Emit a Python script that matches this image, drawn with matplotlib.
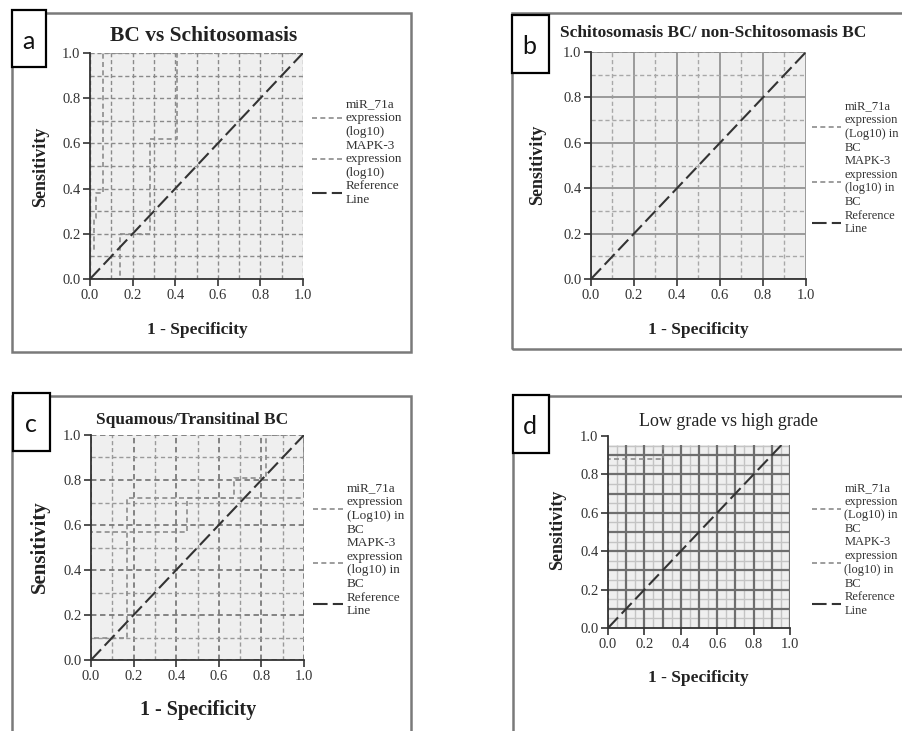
import numpy as np
import matplotlib
matplotlib.use("Agg")
import matplotlib.pyplot as plt
from matplotlib.patches import Rectangle

W, H = 903, 731

# ROC curves (1 - specificity, sensitivity)
a_mir_fpr = [0.0, 0.0, 0.02, 0.02, 0.03, 0.03, 0.06, 0.06, 1.0]
a_mir_tpr = [0.0, 0.13, 0.13, 0.27, 0.27, 0.38, 0.38, 1.0, 1.0]
a_mapk_fpr = [0.0, 0.14, 0.14, 0.28, 0.28, 0.41, 0.41, 1.0]
a_mapk_tpr = [0.0, 0.0, 0.2, 0.2, 0.62, 0.62, 1.0, 1.0]

b_mir_fpr = [0.0, 0.0, 1.0]
b_mir_tpr = [0.0, 1.0, 1.0]
b_mapk_fpr = [0.0, 0.0, 1.0]
b_mapk_tpr = [0.0, 1.0, 1.0]

c_mir_fpr = [0.0, 0.0, 0.17, 0.17, 1.0, 1.0]
c_mir_tpr = [0.0, 0.1, 0.1, 0.72, 0.72, 1.0]
c_mapk_fpr = [0.0, 0.0, 0.45, 0.45, 0.67, 0.67, 0.82, 0.82, 1.0]
c_mapk_tpr = [0.0, 0.57, 0.57, 0.72, 0.72, 0.81, 0.81, 1.0, 1.0]

d_mir_fpr = [0.0, 0.0, 0.3, 0.3, 1.0]
d_mir_tpr = [0.0, 0.88, 0.88, 1.0, 1.0]
d_mapk_fpr = [0.0, 0.0, 1.0]
d_mapk_tpr = [0.0, 1.0, 1.0]

ref_x = [0.0, 1.0]
ref_y = [0.0, 1.0]

ticks = [0.0, 0.2, 0.4, 0.6, 0.8, 1.0]
tick_labels = ["0.0", "0.2", "0.4", "0.6", "0.8", "1.0"]

leg_a = ["miR_71a\nexpression\n(log10)", "MAPK-3\nexpression\n(log10)", "Reference\nLine"]
leg_bcd = ["miR_71a\nexpression\n(Log10) in\nBC", "MAPK-3\nexpression\n(log10) in\nBC", "Reference\nLine"]

plt.rcParams['font.family'] = ['Liberation Serif', 'DejaVu Serif']
fig = plt.figure(figsize=(W / 100, H / 100), dpi=100)
fig.patch.set_facecolor('white')


def fx(px):
    return px / W


def fy(py):
    return 1 - py / H


def frame(x0, y0, x1, y1, **kw):
    fig.patches.append(Rectangle((fx(x0), fy(y1)), fx(x1) - fx(x0), fy(y0) - fy(y1),
                                 transform=fig.transFigure, **kw))


def make_axes(l, r, t, b):
    ax = fig.add_axes([fx(l), fy(b), fx(r) - fx(l), fy(t) - fy(b)])
    ax.set_xlim(0, 1)
    ax.set_ylim(0, 1)
    for s in ['top', 'right']:
        ax.spines[s].set_visible(False)
    for s in ['left', 'bottom']:
        ax.spines[s].set_color('#333333')
        ax.spines[s].set_linewidth(1.3)
        ax.spines[s].set_zorder(5)
    ax.set_xticks(ticks)
    ax.set_xticklabels(tick_labels)
    ax.set_yticks(ticks)
    ax.set_yticklabels(tick_labels)
    ax.tick_params(direction='out', length=5, width=1.2, color='#333333',
                   labelsize=10.5, labelcolor='#333333', pad=2)
    ax.tick_params(which='minor', length=0)
    ax.set_xticks(np.arange(0.1, 1.0, 0.2), minor=True)
    ax.set_yticks(np.arange(0.1, 1.0, 0.2), minor=True)
    return ax


curve_kw = dict(color='#8c8c8c', lw=1.2, dashes=(3, 2))
ref_kw = dict(color='#333333', lw=1.5, dashes=(7, 2.5))


def draw(ax, mir, mapk, labels, anchor, fs=9.5):
    h1, = ax.plot(mir[0], mir[1], zorder=3, **curve_kw)
    h2, = ax.plot(mapk[0], mapk[1], zorder=3, **curve_kw)
    h3, = ax.plot(ref_x, ref_y, zorder=4, **ref_kw)
    ax.legend([h1, h2, h3], labels, loc='center left', bbox_to_anchor=anchor,
              frameon=False, fontsize=fs, handlelength=2.3, handletextpad=0.3,
              labelspacing=0.1, borderaxespad=0, borderpad=0,
              labelcolor='#333333')
    return h3


def letter_box(x0, y0, x1, y1, letter):
    frame(x0, y0, x1, y1, facecolor='white', edgecolor='black', lw=1.6, zorder=10)
    fig.text(fx((x0 + x1) / 2 - 1), fy((y0 + y1) / 2 + 3), letter, ha='center', va='center',
             fontsize=18, family='Lato', color='#111111', zorder=11)


def label_text(x, y, s, size, rot=0, weight='bold'):
    fig.text(fx(x), fy(y), s, ha='center', va='center', rotation=rot,
             fontsize=size, fontweight=weight, color='#222222')


# outer panel frames
frame(12, 13, 411, 352, facecolor='none', edgecolor='#7a7a7a', lw=1.8)
frame(512, 13, 912, 349, facecolor='none', edgecolor='#7a7a7a', lw=1.8)
frame(12, 396, 411, 740, facecolor='none', edgecolor='#7a7a7a', lw=1.8)
frame(513, 396, 912, 740, facecolor='none', edgecolor='#7a7a7a', lw=1.8)

# ---- panel a
ax = make_axes(90, 303, 53, 279)
ax.set_facecolor('#efefef')
ax.grid(which='both', color='#8a8a8a', lw=1.0, ls=(0, (3, 2)))
ax.set_axisbelow(True)
draw(ax, (a_mir_fpr, a_mir_tpr), (a_mapk_fpr, a_mapk_tpr), leg_a, (1.04, 0.56))
label_text(204, 36, "BC vs Schitosomasis", 15.5)
label_text(197, 330, "1 - Specificity", 12.5)
label_text(41, 167, "Sensitivity", 13, rot=90)

# ---- panel b
ax = make_axes(591, 806, 52, 279)
ax.set_facecolor('#efefef')
ax.grid(which='major', color='#9a9a9a', lw=1.4)
ax.grid(which='minor', color='#a8a8a8', lw=1.0, ls=(0, (3, 2)))
ax.set_axisbelow(True)
draw(ax, (b_mir_fpr, b_mir_tpr), (b_mapk_fpr, b_mapk_tpr), leg_bcd, (1.03, 0.49), fs=9)
label_text(713, 33, "Schitosomasis BC/ non-Schitosomasis BC", 12.5)
label_text(698, 330, "1 - Specificity", 12.5)
label_text(538, 165, "Sensitivity", 13, rot=90)

# ---- panel c
ax = make_axes(91, 304, 435, 660)
ax.set_facecolor('#efefef')
ax.grid(which='major', color='#7a7a7a', lw=1.3, ls=(0, (3, 2)))
ax.grid(which='minor', color='#9a9a9a', lw=1.0, ls=(0, (3, 2)))
ax.set_axisbelow(True)
draw(ax, (c_mir_fpr, c_mir_tpr), (c_mapk_fpr, c_mapk_tpr), leg_bcd, (1.04, 0.49))
label_text(192, 420, "Squamous/Transitinal BC", 12.5)
label_text(198, 710, "1 - Specificity", 14.5)
label_text(40, 547, "Sensitivity", 15, rot=90)

# ---- panel d (plot area stops just under 1.0)
ax = make_axes(608, 790, 436, 628)
ax.patch.set_visible(False)
area = Rectangle((0, 0), 1, 0.955, facecolor='#efefef', edgecolor='none', zorder=0)
ax.add_patch(area)
ax.hlines(np.arange(0.05, 0.955, 0.1), 0, 1, color='#c4c4c4', lw=1.0, zorder=1)
ax.vlines(np.arange(0.05, 1.0, 0.1), 0, 0.955, color='#c4c4c4', lw=1.0, zorder=1)
ax.hlines(np.arange(0.1, 0.955, 0.1), 0, 1, color='#6e6e6e', lw=1.6, zorder=2)
ax.vlines(np.arange(0.1, 1.01, 0.1), 0, 0.955, color='#6e6e6e', lw=1.6, zorder=2)
draw(ax, (d_mir_fpr, d_mir_tpr), (d_mapk_fpr, d_mapk_tpr), leg_bcd, (1.12, 0.41), fs=9)
for ln in ax.lines:
    ln.set_clip_path(area)
label_text(729, 422, "Low grade vs high grade", 13, weight='normal')
label_text(698, 678, "1 - Specificity", 12.5)
label_text(558, 530, "Sensitivity", 13, rot=90)

# panel letters
letter_box(12, 10, 46, 67, "a")
letter_box(512, 15, 549, 73, "b")
letter_box(13, 393, 50, 451, "c")
letter_box(513, 395, 549, 453, "d")

fig.savefig("out.png", dpi=100)
